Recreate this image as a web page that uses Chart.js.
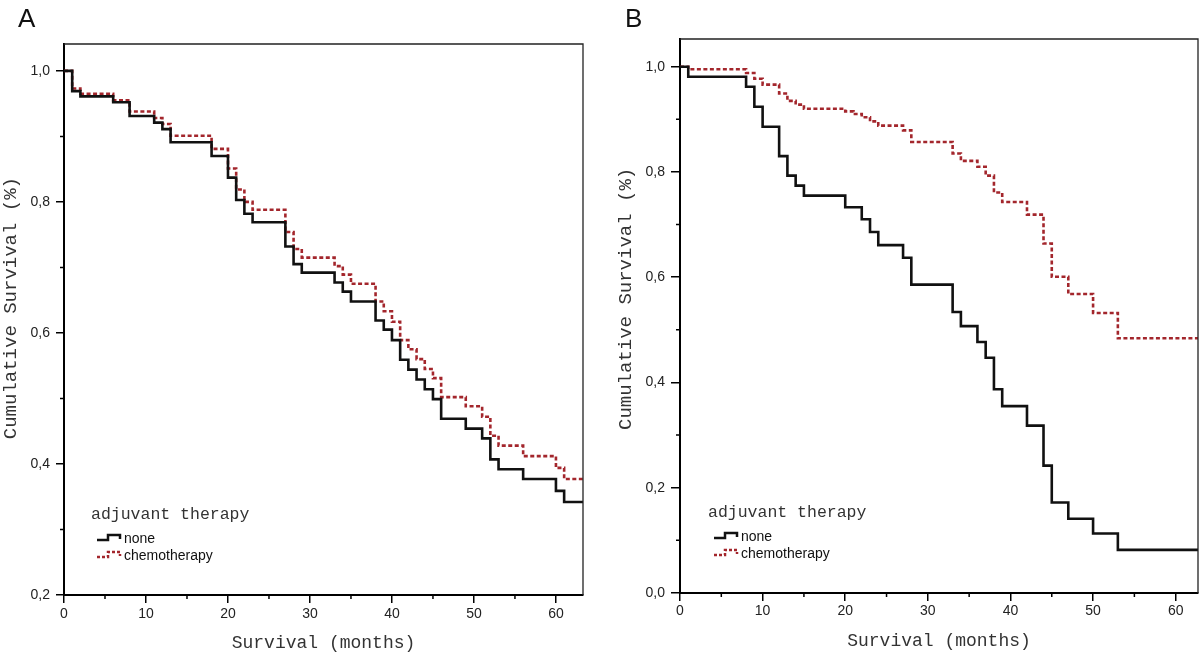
<!DOCTYPE html>
<html>
<head>
<meta charset="utf-8">
<script src="https://cdn.jsdelivr.net/npm/chart.js@4.4.0/dist/chart.umd.min.js"></script>
<style>
body{margin:0;background:#fff;width:1200px;height:654px;overflow:hidden;position:relative;font-family:"Liberation Sans",Arial,sans-serif}
.panel{position:absolute;top:0;width:600px;height:654px}
.tag{position:absolute;top:5px;font-size:26px;line-height:26px;color:#111}
</style>
</head>
<body>
<div class="panel" style="left:0"><canvas id="chartA" width="600" height="654"></canvas></div>
<div class="panel" style="left:600px"><canvas id="chartB" width="600" height="654"></canvas></div>
<div class="tag" style="left:18px">A</div>
<div class="tag" style="left:625px">B</div>
<script>
// panel A - survival in months / cumulative survival
var monthsA_none = [0,1,2,6,8,11,12,13,18,20,21,22,23,27,28,29,33,34,35,38,39,40,41,42,43,44,45,46,49,51,52,53,56,60,61,63.3];
var survA_none   = [1.0,0.969,0.961,0.952,0.931,0.921,0.911,0.891,0.870,0.837,0.803,0.782,0.769,0.732,0.705,0.692,0.677,0.663,0.648,0.619,0.605,0.589,0.559,0.544,0.529,0.514,0.499,0.469,0.454,0.439,0.407,0.392,0.377,0.359,0.342,0.342];
var monthsA_chemo = [0,1,2,6,8,11,12,13,18,20,21,22,23,27,28,29,33,34,35,38,39,40,41,42,43,44,45,46,49,51,52,53,56,60,61,63.3];
var survA_chemo   = [1.0,0.973,0.965,0.955,0.938,0.928,0.919,0.901,0.881,0.851,0.819,0.800,0.788,0.754,0.728,0.715,0.702,0.689,0.675,0.648,0.633,0.617,0.589,0.575,0.560,0.545,0.531,0.502,0.488,0.472,0.443,0.428,0.412,0.394,0.377,0.377];

// panel B
var monthsB_none = [0,1,8,9,10,12,13,14,15,20,22,23,24,27,28,33,34,36,37,38,39,42,44,45,47,50,53,62.7];
var survB_none   = [1.0,0.981,0.962,0.924,0.886,0.830,0.793,0.774,0.755,0.733,0.710,0.686,0.661,0.637,0.586,0.534,0.507,0.477,0.447,0.387,0.355,0.318,0.242,0.172,0.141,0.113,0.082,0.082];
var monthsB_chemo = [0,1,8,9,10,12,13,14,15,20,21,22,23,24,27,28,33,34,36,37,38,39,42,44,45,47,50,53,62.7];
var survB_chemo   = [1.0,0.995,0.988,0.977,0.966,0.949,0.935,0.928,0.920,0.915,0.910,0.904,0.896,0.888,0.879,0.857,0.835,0.821,0.810,0.793,0.761,0.743,0.719,0.664,0.601,0.568,0.532,0.484,0.484];

var groups = ['none', 'chemotherapy'];
var legendTitle = 'adjuvant therapy';
var xTitle = 'Survival (months)';
var yTitle = 'Cumulative Survival (%)';
var minorX = [5,15,25,35,45,55];
var minorYA = [0.3,0.5,0.7,0.9];
var minorYB = [0.1,0.3,0.5,0.7,0.9];

var black = '#111111';
var red = '#a3262c';

function pts(xs, ys) {
    var out = [];
    for (var i in xs) {
        out.push({x: xs[i], y: ys[i]});
    }
    return out;
}

// box on top/right, minor ticks, and the step-shaped legend
var kmExtras = {
    id: 'kmExtras',
    afterDraw: function(chart, args, opts) {
        var ctx = chart.ctx;
        var a = chart.chartArea;
        var xs = chart.scales.x, ys = chart.scales.y;
        ctx.save();
        ctx.strokeStyle = '#222';
        ctx.lineWidth = 1.3;
        ctx.beginPath();
        ctx.moveTo(a.left, a.top);
        ctx.lineTo(a.right, a.top);
        ctx.lineTo(a.right, a.bottom);
        ctx.stroke();

        ctx.strokeStyle = '#000';
        ctx.lineWidth = 1.5;
        ctx.beginPath();
        opts.minorY.forEach(function(v){
            var y = ys.getPixelForValue(v);
            ctx.moveTo(a.left - 4, y);
            ctx.lineTo(a.left, y);
        });
        opts.minorX.forEach(function(v){
            var x = xs.getPixelForValue(v);
            ctx.moveTo(x, a.bottom);
            ctx.lineTo(x, a.bottom + 4);
        });
        ctx.stroke();

        // legend
        var lx = a.left + opts.legendX;
        var by = a.bottom;
        ctx.fillStyle = '#333';
        ctx.font = '16.5px "Liberation Mono", "Courier New", monospace';
        ctx.textBaseline = 'middle';
        ctx.textAlign = 'left';
        ctx.fillText(legendTitle, lx, by - 80);

        var rows = [{y: by - 56, color: black, dash: []}, {y: by - 39, color: red, dash: [3, 2]}];
        ctx.font = '14px "Liberation Sans", Arial, sans-serif';
        rows.forEach(function(r, i){
            var sx = lx + 6;
            ctx.strokeStyle = r.color;
            ctx.lineWidth = 2.5;
            ctx.setLineDash(r.dash);
            ctx.beginPath();
            ctx.moveTo(sx, r.y + 1);
            ctx.lineTo(sx + 11, r.y + 1);
            ctx.lineTo(sx + 11, r.y - 4);
            ctx.lineTo(sx + 23, r.y - 4);
            ctx.lineTo(sx + 23, r.y);
            ctx.stroke();
            ctx.setLineDash([]);
            ctx.fillStyle = '#111';
            ctx.fillText(groups[i], lx + 33, r.y);
        });
        ctx.restore();
    }
};

function makeChart(id, p) {
    var ctx = document.getElementById(id);
    return new Chart(ctx, {
        type: 'line',
        data: {
            datasets: [
                {
                    label: groups[0],
                    data: pts(p.xNone, p.yNone),
                    borderColor: black,
                    borderWidth: 2.6,
                    stepped: true,
                    pointRadius: 0,
                    fill: false
                },
                {
                    label: groups[1],
                    data: pts(p.xChemo, p.yChemo),
                    borderColor: red,
                    borderWidth: 2.6,
                    borderDash: [4, 2.5],
                    stepped: true,
                    pointRadius: 0,
                    fill: false
                }
            ]
        },
        options: {
            responsive: false,
            animation: false,
            devicePixelRatio: 1,
            layout: {padding: {top: p.top, right: p.right, left: 0, bottom: 0}},
            plugins: {
                legend: {display: false},
                tooltip: {enabled: false},
                kmExtras: {minorX: minorX, minorY: p.minorY, legendX: p.legendX}
            },
            scales: {
                x: {
                    type: 'linear',
                    min: 0,
                    max: p.xMax,
                    afterFit: function(s){ s.height = p.xAxisH; },
                    ticks: {
                        stepSize: 10,
                        includeBounds: false,
                        padding: p.xPad,
                        color: '#222',
                        font: {family: '"Liberation Sans", Arial, sans-serif', size: 14},
                        maxRotation: 0
                    },
                    grid: {drawOnChartArea: false, tickLength: 8, color: '#000', lineWidth: 1.5},
                    border: {color: '#000', width: 2},
                    title: {
                        display: true,
                        text: xTitle,
                        color: '#333',
                        padding: {top: 0, bottom: p.xTitlePad},
                        font: {family: '"Liberation Mono", "Courier New", monospace', size: 18, weight: 'normal'}
                    }
                },
                y: {
                    min: p.yMin,
                    max: p.yMax,
                    afterFit: function(s){ s.width = p.yAxisW; },
                    ticks: {
                        stepSize: 0.2,
                        includeBounds: false,
                        padding: 6,
                        color: '#222',
                        font: {family: '"Liberation Sans", Arial, sans-serif', size: 14},
                        callback: function(v){ return (Math.round(v * 10) / 10).toFixed(1).replace('.', ','); }
                    },
                    grid: {drawOnChartArea: false, tickLength: p.yTick, color: '#000', lineWidth: 1.5},
                    border: {color: '#000', width: 2},
                    title: {
                        display: true,
                        text: p.yTitle,
                        color: '#333',
                        padding: {top: p.yTitlePad, bottom: 0},
                        font: {family: '"Liberation Mono", "Courier New", monospace', size: 19, weight: 'normal'}
                    }
                }
            }
        },
        plugins: [kmExtras]
    });
}

makeChart('chartA', {
    xNone: monthsA_none, yNone: survA_none, xChemo: monthsA_chemo, yChemo: survA_chemo,
    xMax: 63.3, yMin: 0.2, yMax: 1.041,
    top: 44, right: 17, yAxisW: 64, xAxisH: 59, yTick: 8, xPad: 3, xTitlePad: 0,
    yTitle: '  ' + yTitle, yTitlePad: 0, minorY: minorYA, legendX: 27
});

makeChart('chartB', {
    xNone: monthsB_none, yNone: survB_none, xChemo: monthsB_chemo, yChemo: survB_chemo,
    xMax: 62.7, yMin: 0, yMax: 1.0526,
    top: 39, right: 2, yAxisW: 80, xAxisH: 61, yTick: 9, xPad: 2, xTitlePad: 2,
    yTitle: '   ' + yTitle, yTitlePad: 15, minorY: minorYB, legendX: 28
});
</script>
</body>
</html>
